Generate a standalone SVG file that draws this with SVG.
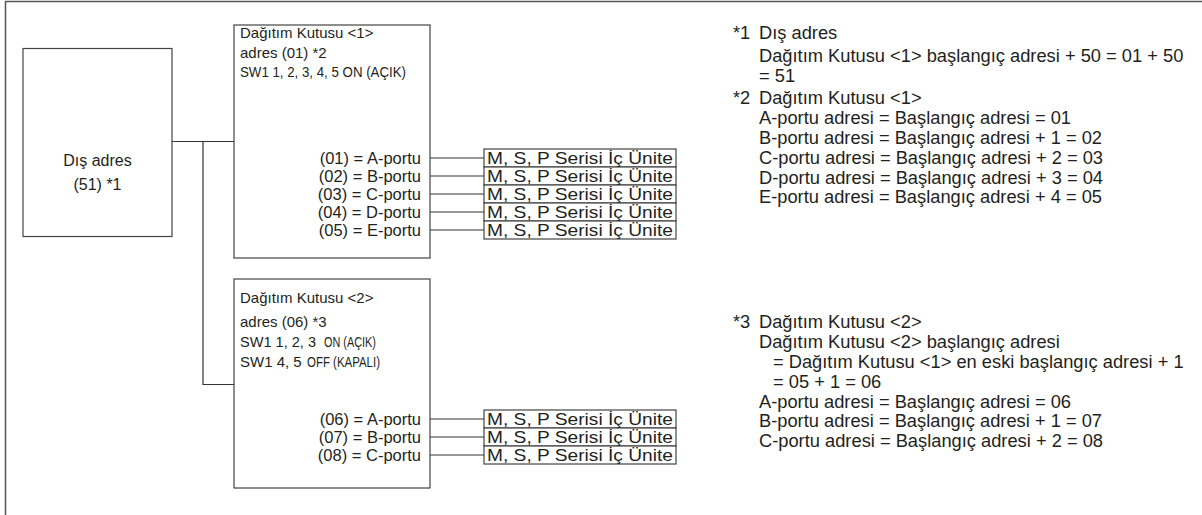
<svg xmlns="http://www.w3.org/2000/svg" width="1202" height="515" viewBox="0 0 1202 515">
<style>
text{font-family:"Liberation Sans",Arial,sans-serif;fill:#231f20}
.t{font-size:15px}
.p{font-size:16.5px}
.u{font-size:17px}
.n{font-size:18.3px}
.d{font-size:16px}
.c{font-size:14px}
.box{fill:#fff;stroke:#444;stroke-width:1.2}
.ln{fill:none;stroke:#333;stroke-width:1.2}
.frame{fill:none;stroke:#555;stroke-width:1.5}
</style>
<rect width="1202" height="515" fill="#fff"/>
<path class="frame" d="M5.5,515 V1.5 H1202"/>
<g id="connectors">
<path class="ln" d="M172,141.5 H234 M203,141.5 V384.5 H234"/>
<path class="ln" d="M430,158 H484 M430,176 H484 M430,194 H484 M430,212 H484 M430,230 H484"/>
<path class="ln" d="M430,419 H484 M430,437 H484 M430,455 H484"/>
</g>
<g id="dis-adres">
<rect class="box" x="23" y="48.5" width="149" height="188"/>
<text class="d" x="97.5" y="166" text-anchor="middle">Dış adres</text>
<text class="d" x="97.5" y="190" text-anchor="middle">(51) *1</text>
</g>
<g id="dk1">
<rect class="box" x="234" y="25" width="196" height="233"/>
<text class="t" x="240" y="38">Dağıtım Kutusu &lt;1&gt;</text>
<text class="t" x="240" y="58">adres (01) *2</text>
<text class="c" x="240" y="77" textLength="166" lengthAdjust="spacingAndGlyphs">SW1 1, 2, 3, 4, 5 ON (AÇIK)</text>
<text class="p" x="421" y="164" text-anchor="end">(01) = A-portu</text>
<text class="p" x="421" y="182" text-anchor="end">(02) = B-portu</text>
<text class="p" x="421" y="200" text-anchor="end">(03) = C-portu</text>
<text class="p" x="421" y="218" text-anchor="end">(04) = D-portu</text>
<text class="p" x="421" y="236" text-anchor="end">(05) = E-portu</text>
</g>
<g id="units1">
<rect class="box" x="484" y="149" width="192" height="18"/>
<rect class="box" x="484" y="167" width="192" height="18"/>
<rect class="box" x="484" y="185" width="192" height="18"/>
<rect class="box" x="484" y="203" width="192" height="18"/>
<rect class="box" x="484" y="221" width="192" height="18"/>
<text class="u" x="487" y="164" textLength="186" lengthAdjust="spacingAndGlyphs">M, S, P Serisi İç Ünite</text>
<text class="u" x="487" y="182" textLength="186" lengthAdjust="spacingAndGlyphs">M, S, P Serisi İç Ünite</text>
<text class="u" x="487" y="200" textLength="186" lengthAdjust="spacingAndGlyphs">M, S, P Serisi İç Ünite</text>
<text class="u" x="487" y="218" textLength="186" lengthAdjust="spacingAndGlyphs">M, S, P Serisi İç Ünite</text>
<text class="u" x="487" y="236" textLength="186" lengthAdjust="spacingAndGlyphs">M, S, P Serisi İç Ünite</text>
</g>
<g id="dk2">
<rect class="box" x="234" y="279" width="196" height="209"/>
<text class="t" x="240" y="303">Dağıtım Kutusu &lt;2&gt;</text>
<text class="t" x="240" y="327">adres (06) *3</text>
<text class="c" x="240" y="347" textLength="76" lengthAdjust="spacingAndGlyphs">SW1 1, 2, 3</text>
<text class="c" x="324" y="347" textLength="52" lengthAdjust="spacingAndGlyphs">ON (AÇIK)</text>
<text class="t" x="240" y="367">SW1 4, 5</text>
<text class="c" x="307" y="367" textLength="73" lengthAdjust="spacingAndGlyphs">OFF (KAPALI)</text>
<text class="p" x="421" y="425" text-anchor="end">(06) = A-portu</text>
<text class="p" x="421" y="443" text-anchor="end">(07) = B-portu</text>
<text class="p" x="421" y="461" text-anchor="end">(08) = C-portu</text>
</g>
<g id="units2">
<rect class="box" x="484" y="410" width="192" height="18"/>
<rect class="box" x="484" y="428" width="192" height="18"/>
<rect class="box" x="484" y="446" width="192" height="18"/>
<text class="u" x="487" y="425" textLength="186" lengthAdjust="spacingAndGlyphs">M, S, P Serisi İç Ünite</text>
<text class="u" x="487" y="443" textLength="186" lengthAdjust="spacingAndGlyphs">M, S, P Serisi İç Ünite</text>
<text class="u" x="487" y="461" textLength="186" lengthAdjust="spacingAndGlyphs">M, S, P Serisi İç Ünite</text>
</g>
<g id="notes">
<text class="n" x="733" y="39">*1</text>
<text class="n" x="759" y="39">Dış adres</text>
<text class="n" x="759" y="62">Dağıtım Kutusu &lt;1&gt; başlangıç adresi + 50 = 01 + 50</text>
<text class="n" x="759" y="82">= 51</text>
<text class="n" x="733" y="104">*2</text>
<text class="n" x="759" y="104">Dağıtım Kutusu &lt;1&gt;</text>
<text class="n" x="759" y="124">A-portu adresi = Başlangıç adresi = 01</text>
<text class="n" x="759" y="144">B-portu adresi = Başlangıç adresi + 1 = 02</text>
<text class="n" x="759" y="164">C-portu adresi = Başlangıç adresi + 2 = 03</text>
<text class="n" x="759" y="184">D-portu adresi = Başlangıç adresi + 3 = 04</text>
<text class="n" x="759" y="203">E-portu adresi = Başlangıç adresi + 4 = 05</text>
<text class="n" x="733" y="328">*3</text>
<text class="n" x="759" y="328">Dağıtım Kutusu &lt;2&gt;</text>
<text class="n" x="759" y="348">Dağıtım Kutusu &lt;2&gt; başlangıç adresi</text>
<text class="n" x="773" y="368">= Dağıtım Kutusu &lt;1&gt; en eski başlangıç adresi + 1</text>
<text class="n" x="773" y="388">= 05 + 1 = 06</text>
<text class="n" x="759" y="408">A-portu adresi = Başlangıç adresi = 06</text>
<text class="n" x="759" y="427">B-portu adresi = Başlangıç adresi + 1 = 07</text>
<text class="n" x="759" y="447">C-portu adresi = Başlangıç adresi + 2 = 08</text>
</g>
</svg>
